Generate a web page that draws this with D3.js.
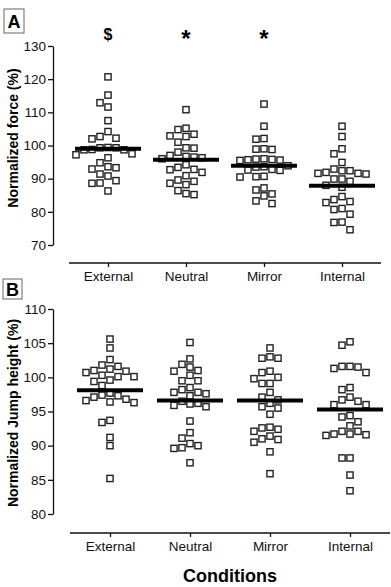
<!DOCTYPE html>
<html>
<head>
<meta charset="utf-8">
<script src="https://cdn.jsdelivr.net/npm/d3@7"></script>
<style>
  body { margin: 0; background: #fff; }
  text { font-family: "Liberation Sans", Arial, sans-serif; }
</style>
</head>
<body>
<div id="chart"></div>
<script>
  // conditions on the x axis
  var conditions = ["External", "Neutral", "Mirror", "Internal"];

  // panel A: normalized force (%)
  var forceExternal = [120.7, 115.2, 112.9, 111.6, 107.5, 104.2, 102.0, 102.7, 102.2,
    99.3, 99.3, 99.4, 98.7, 98.7, 98.8, 97.2, 96.3, 97.5, 93.6, 92.9, 93.3, 94.8,
    90.8, 91.4, 88.7, 89.4, 88.6, 86.3];
  var forceNeutral = [110.8, 104.8, 105.2, 102.9, 102.7, 103.4, 101.0, 99.2, 99.3, 98.0,
    96.7, 96.0, 96.3, 96.5, 97.0, 94.2, 92.8, 91.9, 92.7, 93.4, 90.9, 88.6, 89.6,
    88.2, 89.2, 86.4, 85.2, 85.5];
  var forceMirror = [112.5, 105.8, 102.1, 101.9, 99.0, 98.8, 98.9, 95.9, 95.7, 95.5,
    95.6, 95.8, 96.0, 93.6, 93.5, 93.9, 92.6, 92.5, 92.8, 90.6, 90.5, 90.7, 87.2,
    86.6, 85.4, 84.8, 82.5, 83.3];
  var forceInternal = [105.8, 102.7, 99.0, 97.5, 94.9, 92.9, 92.4, 91.6, 91.4, 91.6,
    91.9, 92.4, 89.9, 89.9, 89.2, 88.0, 87.4, 83.7, 82.8, 83.1, 84.6, 80.7, 79.3,
    81.0, 76.8, 74.6, 76.9];
  var forceMeans = [99.0, 95.7, 93.9, 87.9];
  var forceMarks = ["$", "*", "*", ""];
  var forceTicks = [70, 80, 90, 100, 110, 120, 130];

  // panel B: normalized jump height (%)
  var jumpExternal = [105.6, 104.3, 102.6, 101.8, 101.2, 100.9, 101.0, 101.6, 100.7,
    100.1, 100.1, 100.3, 99.6, 99.4, 98.8, 97.3, 96.8, 96.4, 96.3, 96.6, 97.1, 97.4,
    97.7, 93.4, 93.7, 91.2, 90.0, 85.2];
  var jumpNeutral = [105.1, 102.7, 101.9, 101.5, 101.0, 100.9, 100.3, 99.5, 99.5, 98.5,
    98.2, 97.8, 97.6, 97.3, 97.8, 96.5, 96.1, 95.7, 95.9, 96.2, 93.6, 91.9, 91.1,
    90.3, 89.7, 89.6, 90.0, 87.5];
  var jumpMirror = [104.3, 103.0, 102.8, 102.8, 100.9, 100.7, 99.8, 99.1, 99.1, 100.0,
    97.8, 96.7, 97.1, 95.7, 96.2, 95.5, 94.6, 92.6, 92.4, 92.7, 92.1, 91.4, 90.9,
    90.5, 91.0, 89.1, 85.9];
  var jumpInternal = [104.7, 105.2, 101.6, 101.3, 100.7, 101.5, 101.6, 98.2, 98.5, 96.7,
    96.0, 96.0, 96.5, 97.1, 94.4, 93.5, 94.2, 92.1, 91.7, 91.6, 91.5, 91.7, 92.1,
    92.9, 88.2, 88.2, 85.7, 83.4];
  var jumpMeans = [98.1, 96.6, 96.6, 95.3];
  var jumpTicks = [80, 85, 90, 95, 100, 105, 110];

  var width = 391, height = 587;
  var boxSize = 6.2, gap = 7.8, meanHalf = 33;

  var svg = d3.select("#chart")
              .append("svg")
              .attr("width", width)
              .attr("height", height);

  // place squares side by side when they would overlap
  function swarm(values, y, cx) {
    var placed = [];
    var items = values.map(function(v) { return {v: v, py: y(v)}; })
                      .sort(function(a, b) { return b.v - a.v; });
    items.forEach(function(p) {
      for (var k = 0; k < 200; k++) {
        var off = (k % 2 === 0 ? 1 : -1) * Math.ceil(k / 2) * 0.5;
        var free = placed.every(function(q) {
          return Math.abs(q.py - p.py) >= gap || Math.abs(q.px - (cx + off)) >= gap;
        });
        if (free) { p.px = cx + off; break; }
      }
      placed.push(p);
    });
    return placed;
  }

  function panel(opts) {
    var x = d3.scalePoint().domain(conditions).range(opts.xRange).padding(0.5);
    var y = d3.scaleLinear().domain(opts.yDomain).range(opts.yRange);
    var g = svg.append("g");

    var yAxis = g.append("g")
                 .attr("transform", "translate(53,0)")
                 .call(d3.axisLeft(y).tickValues(opts.ticks).tickSize(5).tickSizeOuter(0).tickPadding(2));
    yAxis.selectAll("text").attr("font-size", 13.5).attr("fill", "#111");

    var xAxis = g.append("g")
                 .attr("transform", "translate(0," + opts.xAxisY + ")")
                 .call(d3.axisBottom(x).tickSize(4).tickSizeOuter(0).tickPadding(4));
    xAxis.select(".domain").attr("d", "M" + opts.xRange[0] + ",0H" + opts.xRange[1]);
    xAxis.selectAll("text").attr("font-size", 13.5).attr("fill", "#111");

    g.selectAll(".domain, .tick line").attr("stroke", "#111").attr("stroke-width", 1.3);

    opts.series.forEach(function(vals, i) {
      var pts = swarm(vals, y, x(conditions[i]));
      g.selectAll(".pt" + i)
       .data(pts)
       .enter()
       .append("rect")
       .attr("x", function(d) { return d.px - boxSize / 2; })
       .attr("y", function(d) { return d.py - boxSize / 2; })
       .attr("width", boxSize)
       .attr("height", boxSize)
       .attr("fill", "none")
       .attr("stroke", "#222")
       .attr("stroke-width", 1.4);
    });

    g.selectAll(".mean")
     .data(opts.means)
     .enter()
     .append("line")
     .attr("x1", function(d, i) { return x(conditions[i]) - meanHalf; })
     .attr("x2", function(d, i) { return x(conditions[i]) + meanHalf; })
     .attr("y1", function(d) { return y(d); })
     .attr("y2", function(d) { return y(d); })
     .attr("stroke", "#000")
     .attr("stroke-width", 4);

    g.append("text")
     .attr("transform", "translate(" + opts.titleX + "," + opts.titleY + ") rotate(-90)")
     .attr("text-anchor", "middle")
     .attr("font-size", 14)
     .attr("font-weight", "bold")
     .text(opts.title);

    g.append("rect")
     .attr("x", opts.box[0]).attr("y", opts.box[1])
     .attr("width", opts.box[2]).attr("height", opts.box[3])
     .attr("fill", "#fff").attr("stroke", "#666").attr("stroke-width", 1);
    g.append("text")
     .attr("x", opts.box[0] + opts.box[2] / 2)
     .attr("y", opts.box[1] + opts.box[3] / 2 + 6.5)
     .attr("text-anchor", "middle")
     .attr("font-size", 18)
     .attr("font-weight", "bold")
     .text(opts.letter);

    return {x: x, y: y};
  }

  var a = panel({
    series: [forceExternal, forceNeutral, forceMirror, forceInternal],
    means: forceMeans, ticks: forceTicks,
    xRange: [69, 381], yDomain: [70, 130], yRange: [245, 46], xAxisY: 263,
    title: "Normalized force (%)", titleX: 18, titleY: 138,
    letter: "A", box: [4, 9, 20, 24]
  });

  svg.selectAll(".sig")
     .data(forceMarks)
     .enter()
     .append("text")
     .attr("x", function(d, i) { return a.x(conditions[i]); })
     .attr("y", function(d) { return d === "$" ? 40 : 47; })
     .attr("text-anchor", "middle")
     .attr("font-weight", "bold")
     .attr("font-size", function(d) { return d === "$" ? 16 : 24; })
     .text(function(d) { return d; });

  panel({
    series: [jumpExternal, jumpNeutral, jumpMirror, jumpInternal],
    means: jumpMeans, ticks: jumpTicks,
    xRange: [70, 390], yDomain: [80, 110], yRange: [514, 309], xAxisY: 533,
    title: "Normalized Jump height (%)", titleX: 18, titleY: 413,
    letter: "B", box: [3, 279, 19, 20]
  });

  svg.append("text")
     .attr("x", 230)
     .attr("y", 582)
     .attr("text-anchor", "middle")
     .attr("font-size", 18)
     .attr("font-weight", "bold")
     .text("Conditions");
</script>
</body>
</html>
